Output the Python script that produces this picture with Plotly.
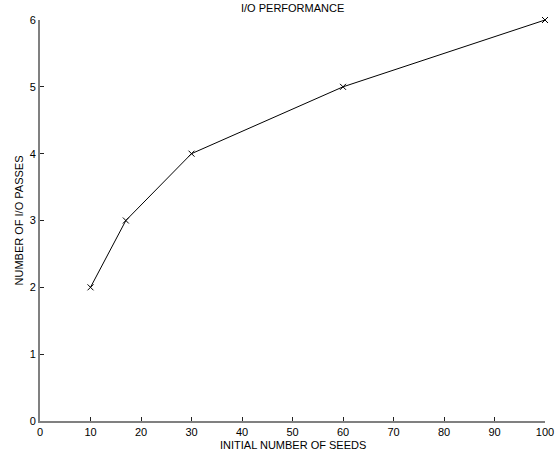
import plotly.graph_objects as go

seeds = [10, 17, 30, 60, 100]
passes = [2, 3, 4, 5, 6]
x_ticks = [0, 10, 20, 30, 40, 50, 60, 70, 80, 90, 100]
y_ticks = [0, 1, 2, 3, 4, 5, 6]

FAM = "Liberation Sans, Arial, sans-serif"

fig = go.Figure()
fig.add_trace(go.Scatter(
    x=seeds, y=passes, mode="lines+markers",
    line=dict(color="black", width=1),
    marker=dict(symbol="x-thin", size=6, line=dict(color="black", width=1), color="black"),
    cliponaxis=False, showlegend=False,
))

fig.update_layout(
    width=560, height=455,
    margin=dict(l=40, r=15, t=20, b=34, autoexpand=False),
    paper_bgcolor="white", plot_bgcolor="white",
    font=dict(family=FAM, size=11, color="black"),
    xaxis=dict(range=[0, 100], tickvals=x_ticks, ticks="inside", ticklen=4, tickcolor="#222",
               tickwidth=1, showline=True, linecolor="#808080", linewidth=2, showgrid=False,
               zeroline=False, automargin=False),
    yaxis=dict(range=[0, 6], tickvals=y_ticks, ticks="inside", ticklen=4, tickcolor="#222",
               tickwidth=1, showline=True, linecolor="#808080", linewidth=2, showgrid=False,
               zeroline=False, automargin=False),
    annotations=[
        dict(text="I/O PERFORMANCE", xref="paper", yref="paper", x=0.5, y=1, yshift=12,
             xanchor="center", yanchor="middle", showarrow=False, font=dict(family=FAM, size=11)),
        dict(text="INITIAL NUMBER OF SEEDS", xref="paper", yref="paper", x=0.5, y=0, yshift=-24,
             xanchor="center", yanchor="middle", showarrow=False, font=dict(family=FAM, size=11)),
        dict(text="NUMBER OF I/O PASSES", xref="paper", yref="paper", x=0, y=0.5, xshift=-22,
             xanchor="center", yanchor="middle", textangle=-90, showarrow=False,
             font=dict(family=FAM, size=11)),
    ],
)
fig.write_html("out.html", config={"displayModeBar": False},
               post_script="document.body.style.margin='0';document.body.style.overflow='hidden';")
